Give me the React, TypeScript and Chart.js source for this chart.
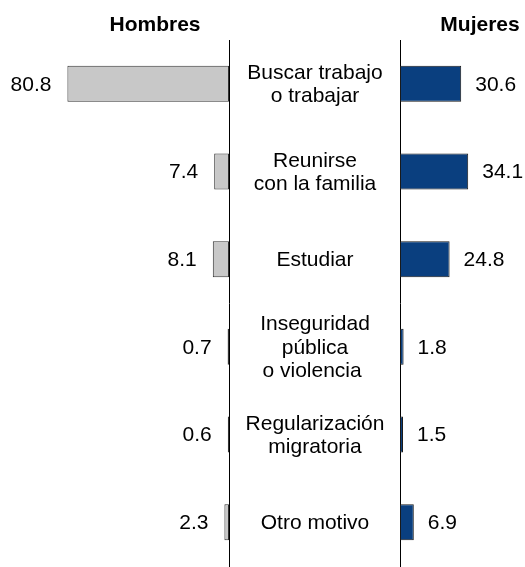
import React, { useEffect, useRef } from 'react';
import { Chart, registerables } from 'chart.js';

Chart.register(...registerables);

const categories: string[][] = [
  ['Buscar trabajo', 'o trabajar'],
  ['Reunirse', 'con la familia'],
  ['Estudiar'],
  ['Inseguridad', 'pública', 'o violencia '],
  ['Regularización', 'migratoria'],
  ['Otro motivo'],
];
const hombres = [80.8, 7.4, 8.1, 0.7, 0.6, 2.3];
const mujeres = [30.6, 34.1, 24.8, 1.8, 1.5, 6.9];
const seriesNames = ['Hombres', 'Mujeres'];

const FONT = '"Liberation Sans", Arial, Helvetica, sans-serif';

const decorPlugin = {
  id: 'decor',
  afterDatasetsDraw(chart: any, _args: any, opts: any) {
    const ctx = chart.ctx;
    const meta = chart.getDatasetMeta(0);
    const data = chart.data.datasets[0].data as number[];
    ctx.save();
    ctx.fillStyle = '#000';
    ctx.textBaseline = 'middle';
    ctx.font = `21px ${FONT}`;
    meta.data.forEach((el: any, i: number) => {
      const txt = data[i].toFixed(1);
      if (opts.side === 'left') {
        ctx.textAlign = 'right';
        ctx.fillText(txt, el.x - 16, el.y + 1);
      } else {
        ctx.textAlign = 'left';
        ctx.fillText(txt, el.x + 14, el.y + 1);
      }
    });
    // category labels in the central gap (right chart only)
    if (opts.side === 'right') {
      const yScale = chart.scales.y;
      const cx = chart.chartArea.left - opts.gapWidth / 2;
      ctx.textAlign = 'center';
      const lh = 23.5;
      (chart.data.labels as string[][]).forEach((lines, i) => {
        const cy = yScale.getPixelForValue(i) + 1;
        const start = cy - ((lines.length - 1) * lh) / 2;
        lines.forEach((ln, j) => ctx.fillText(ln, cx, start + j * lh));
      });
    }
    // series title
    ctx.font = `bold 21px ${FONT}`;
    ctx.textAlign = 'center';
    ctx.fillText(opts.title, opts.titleX, 25);
    ctx.restore();
  },
};

export default function App() {
  const leftRef = useRef<HTMLCanvasElement>(null);
  const rightRef = useRef<HTMLCanvasElement>(null);

  useEffect(() => {
    const left = new Chart(leftRef.current!, {
      type: 'bar',
      data: {
        labels: categories,
        datasets: [
          {
            label: seriesNames[0],
            data: hombres,
            backgroundColor: '#C8C8C8',
            borderColor: '#333333',
            borderWidth: 1,
            borderSkipped: false,
            barPercentage: 0.41,
            categoryPercentage: 1,
          },
        ],
      },
      options: {
        indexAxis: 'y',
        responsive: false,
        animation: false,
        layout: { padding: { left: 29, right: 2, top: 40, bottom: 1 } },
        plugins: {
          legend: { display: false },
          tooltip: { enabled: false },
          decor: { side: 'left', title: seriesNames[0], titleX: 155 },
        } as any,
        scales: {
          x: { type: 'linear', reverse: true, min: 0, max: 100, display: false },
          y: {
            position: 'right',
            ticks: { display: false },
            grid: { display: false, drawTicks: false },
            border: { display: true, color: '#000', width: 1 },
            afterFit: (s: any) => {
              s.width = 0;
            },
          },
        },
      },
      plugins: [decorPlugin],
    });

    const gapWidth = 170;
    const right = new Chart(rightRef.current!, {
      type: 'bar',
      data: {
        labels: categories,
        datasets: [
          {
            label: seriesNames[1],
            data: mujeres,
            backgroundColor: '#0A3F7F',
            borderColor: '#1a1a1a',
            borderWidth: 1,
            borderSkipped: false,
            barPercentage: 0.41,
            categoryPercentage: 1,
          },
        ],
      },
      options: {
        indexAxis: 'y',
        responsive: false,
        animation: false,
        layout: { padding: { left: 0, right: 5, top: 40, bottom: 1 } },
        plugins: {
          legend: { display: false },
          tooltip: { enabled: false },
          decor: { side: 'right', title: seriesNames[1], titleX: 250, gapWidth },
        } as any,
        scales: {
          x: { type: 'linear', min: 0, max: 60, display: false },
          y: {
            position: 'left',
            ticks: { display: false },
            grid: { display: false, drawTicks: false },
            border: { display: true, color: '#000', width: 1 },
            afterFit: (s: any) => {
              s.width = gapWidth;
            },
          },
        },
      },
      plugins: [decorPlugin],
    });

    return () => {
      left.destroy();
      right.destroy();
    };
  }, []);

  return (
    <div
      style={{
        position: 'fixed',
        left: 0,
        top: 0,
        width: 525,
        height: 567,
        background: '#fff',
      }}
    >
      <canvas
        ref={leftRef}
        width={231}
        height={567}
        style={{ position: 'absolute', left: 0, top: 0 }}
      />
      <canvas
        ref={rightRef}
        width={295}
        height={567}
        style={{ position: 'absolute', left: 230, top: 0 }}
      />
    </div>
  );
}
